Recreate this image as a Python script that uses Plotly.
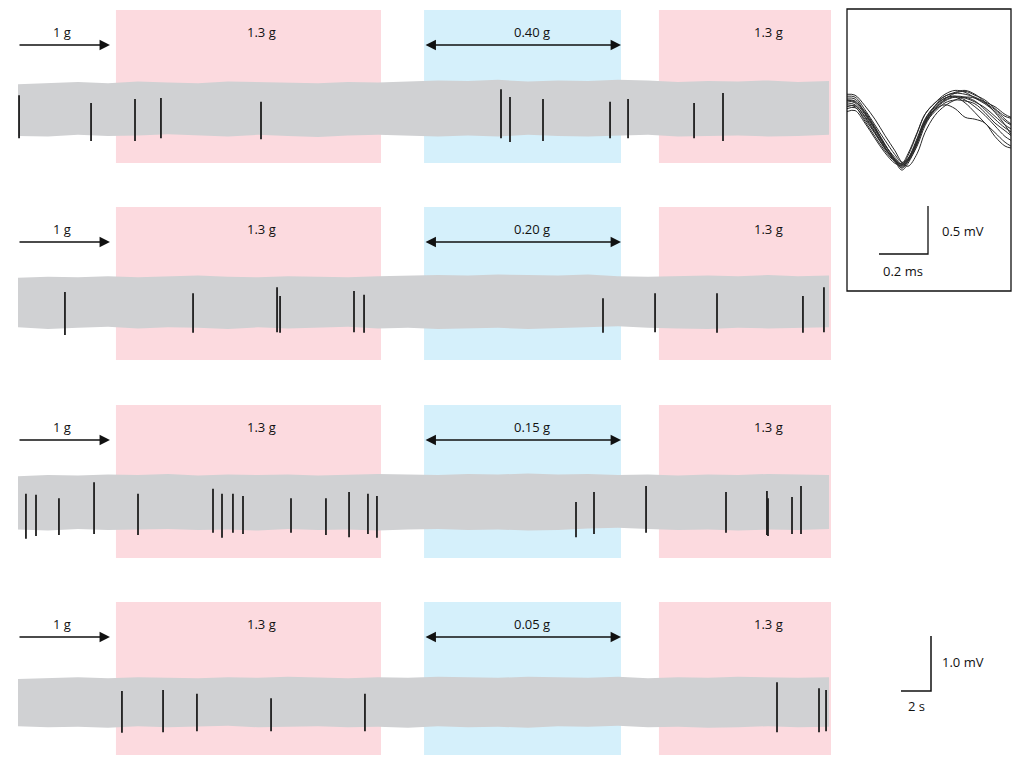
import plotly.graph_objects as go

# ------------------------------------------------------------------ data
LOW_G_LABELS = ["0.40 g", "0.20 g", "0.15 g", "0.05 g"]
HYPER_LABEL = "1.3 g"
BASE_LABEL = "1 g"

# condition intervals (seconds)
PINK1 = (6.53, 24.2)
BLUE = (27.07, 40.2)
PINK2 = (42.73, 54.2)
BASE_ARROW = (0.0, 6.13)
TRACE_END = 54.07

# noise envelope (mV, relative to each row baseline), sampled every 2 s
ENV_T = [0, 2, 4, 6, 8, 10, 12, 14, 16, 18, 20, 22, 24, 26, 28, 30, 32, 34, 36, 38,
         40, 42, 44, 46, 48, 50, 52, 54]
ENV_UP = [
    [0.45, 0.47, 0.49, 0.47, 0.50, 0.48, 0.47, 0.50, 0.49, 0.48, 0.47, 0.49, 0.48, 0.50,
     0.52, 0.51, 0.53, 0.50, 0.52, 0.51, 0.53, 0.52, 0.49, 0.51, 0.50, 0.52, 0.49, 0.51],
    [0.44, 0.46, 0.45, 0.47, 0.45, 0.46, 0.48, 0.46, 0.45, 0.47, 0.46, 0.45, 0.47, 0.48,
     0.49, 0.48, 0.50, 0.49, 0.48, 0.50, 0.47, 0.46, 0.47, 0.48, 0.47, 0.49, 0.47, 0.48],
    [0.47, 0.49, 0.48, 0.50, 0.49, 0.51, 0.48, 0.50, 0.49, 0.50, 0.48, 0.49, 0.51, 0.50,
     0.49, 0.51, 0.50, 0.52, 0.50, 0.51, 0.49, 0.50, 0.48, 0.50, 0.49, 0.51, 0.50, 0.49],
    [0.42, 0.44, 0.45, 0.43, 0.45, 0.44, 0.43, 0.45, 0.44, 0.46, 0.44, 0.43, 0.45, 0.44,
     0.46, 0.45, 0.44, 0.46, 0.45, 0.44, 0.46, 0.43, 0.45, 0.44, 0.46, 0.45, 0.44, 0.45],
]
ENV_LO = [
    [-0.49, -0.50, -0.47, -0.49, -0.48, -0.46, -0.48, -0.50, -0.47, -0.49, -0.51, -0.48, -0.47, -0.49,
     -0.50, -0.48, -0.50, -0.47, -0.49, -0.50, -0.48, -0.47, -0.50, -0.49, -0.48, -0.50, -0.49, -0.47],
    [-0.46, -0.49, -0.47, -0.45, -0.48, -0.46, -0.47, -0.49, -0.46, -0.48, -0.47, -0.45, -0.48, -0.47,
     -0.49, -0.48, -0.47, -0.49, -0.48, -0.46, -0.44, -0.47, -0.48, -0.49, -0.47, -0.48, -0.47, -0.46],
    [-0.50, -0.52, -0.49, -0.51, -0.50, -0.49, -0.51, -0.50, -0.52, -0.49, -0.51, -0.50, -0.52, -0.50,
     -0.49, -0.51, -0.50, -0.52, -0.51, -0.48, -0.47, -0.49, -0.51, -0.50, -0.52, -0.50, -0.51, -0.49],
    [-0.44, -0.46, -0.45, -0.47, -0.44, -0.46, -0.45, -0.43, -0.46, -0.45, -0.44, -0.46, -0.45, -0.47,
     -0.44, -0.46, -0.45, -0.47, -0.44, -0.45, -0.43, -0.46, -0.45, -0.47, -0.46, -0.44, -0.46, -0.45],
]

# spikes per row: time (s), top (mV), bottom (mV) relative to row baseline
SPIKE_T = [
    [0.07, 4.87, 7.8, 9.53, 16.2, 32.2, 32.8, 35.0, 39.47, 40.67, 45.07, 47.0],
    [3.13, 11.67, 17.27, 17.47, 22.4, 23.07, 39.0, 42.47, 46.6, 52.33, 53.73],
    [0.53, 1.2, 2.73, 5.07, 8.0, 13.0, 13.6, 14.33, 15.0, 18.2, 20.53, 22.07, 23.33, 23.93,
     37.2, 38.4, 41.87, 47.2, 49.93, 50.0, 51.6, 52.2],
    [6.93, 9.67, 11.93, 16.87, 23.13, 50.6, 53.4, 53.87],
]
SPIKE_TOP = [
    [0.25, 0.11, 0.18, 0.20, 0.13, 0.36, 0.22, 0.18, 0.13, 0.18, 0.11, 0.29],
    [0.18, 0.16, 0.27, 0.11, 0.20, 0.13, 0.07, 0.16, 0.16, 0.11, 0.27],
    [0.15, 0.13, 0.07, 0.36, 0.15, 0.24, 0.15, 0.15, 0.11, 0.07, 0.07, 0.18, 0.15, 0.11,
     0.00, 0.18, 0.29, 0.18, 0.20, 0.07, 0.09, 0.29],
    [0.20, 0.22, 0.15, 0.07, 0.15, 0.36, 0.25, 0.22],
]
SPIKE_BOT = [
    [-0.53, -0.58, -0.58, -0.53, -0.55, -0.53, -0.60, -0.58, -0.53, -0.53, -0.53, -0.58],
    [-0.60, -0.56, -0.55, -0.56, -0.55, -0.56, -0.56, -0.55, -0.56, -0.56, -0.55],
    [-0.67, -0.62, -0.60, -0.58, -0.60, -0.56, -0.65, -0.56, -0.58, -0.56, -0.60, -0.64, -0.58, -0.65,
     -0.64, -0.58, -0.56, -0.56, -0.60, -0.62, -0.58, -0.58],
    [-0.56, -0.55, -0.53, -0.53, -0.53, -0.55, -0.55, -0.53],
]

# inset: overlaid spike waveforms (time in ms, voltage in mV)
WAVE_T = [0, 0.033, 0.073, 0.114, 0.155, 0.196, 0.224, 0.249, 0.286, 0.318, 0.359, 0.4,
          0.441, 0.482, 0.522, 0.563, 0.604, 0.645, 0.669]
WAVES = [
    [0.00, -0.02, -0.12, -0.28, -0.46, -0.62, -0.68, -0.64, -0.48, -0.27, -0.10, -0.01, 0.03, 0.02, -0.02, -0.08, -0.17, -0.26, -0.30],
    [-0.05, -0.07, -0.22, -0.38, -0.53, -0.64, -0.66, -0.56, -0.34, -0.15, -0.03, 0.06, 0.10, 0.08, 0.02, -0.04, -0.12, -0.22, -0.26],
    [0.06, 0.05, -0.06, -0.20, -0.37, -0.53, -0.65, -0.69, -0.56, -0.34, -0.16, -0.06, 0.00, 0.03, 0.02, -0.03, -0.10, -0.20, -0.25],
    [-0.12, -0.11, -0.24, -0.40, -0.55, -0.66, -0.68, -0.58, -0.35, -0.15, -0.03, 0.04, 0.08, 0.10, 0.06, -0.02, -0.13, -0.26, -0.36],
    [0.02, 0.01, -0.13, -0.29, -0.47, -0.62, -0.71, -0.64, -0.44, -0.24, -0.09, 0.00, 0.03, -0.03, -0.13, -0.24, -0.34, -0.44, -0.48],
    [-0.03, -0.05, -0.18, -0.34, -0.50, -0.63, -0.69, -0.62, -0.42, -0.22, -0.10, -0.05, -0.09, -0.18, -0.20, -0.24, -0.38, -0.48, -0.50],
    [0.04, 0.03, -0.10, -0.26, -0.42, -0.57, -0.65, -0.61, -0.42, -0.21, -0.06, 0.04, 0.07, 0.06, 0.03, -0.02, -0.07, -0.15, -0.18],
    [-0.09, -0.08, -0.20, -0.35, -0.51, -0.64, -0.70, -0.63, -0.44, -0.25, -0.12, -0.03, 0.00, -0.01, -0.04, -0.13, -0.24, -0.32, -0.37],
    [-0.01, -0.03, -0.15, -0.31, -0.47, -0.60, -0.67, -0.62, -0.45, -0.24, -0.09, 0.01, 0.07, 0.09, 0.05, 0.00, -0.09, -0.17, -0.19],
    [0.00, -0.01, -0.14, -0.30, -0.49, -0.64, -0.73, -0.66, -0.46, -0.23, -0.07, 0.02, 0.04, 0.00, -0.07, -0.16, -0.27, -0.38, -0.42],
    [-0.07, -0.06, -0.17, -0.33, -0.50, -0.62, -0.67, -0.61, -0.40, -0.20, -0.06, 0.02, 0.04, 0.03, -0.01, -0.10, -0.20, -0.29, -0.33],
]

SCALE_MAIN = (2.0, 1.0)      # 2 s, 1.0 mV
SCALE_INSET = (0.2, 0.5)     # 0.2 ms, 0.5 mV

# ------------------------------------------------------------------ layout helpers
W, H = 1024, 766
OFF = 8                      # page body margin in the browser
PINK = "#fcdadf"
BLUEC = "#d5f0fb"
GRAY = "#d0d1d3"
INK = "#1e1e1e"
FONT = "Open Sans"


def pxp(px):           # screen pixel x -> paper fraction
    return (px - OFF) / W


def pyp(py):           # screen pixel y -> paper fraction
    return 1 - (py - OFF) / H


def tx(px):            # main screen x pixel -> seconds
    return (px - 18) / 15.0


def vy(py):            # main screen y pixel -> mV
    return (109 - py) / 55.0


ROW_CENTER_PX = [109, 302, 502, 702]
RECT_TOP_PX = [10, 207, 405, 602]
RECT_H = 153
BASES = [vy(c) for c in ROW_CENTER_PX]

fig = go.Figure()
shapes = []
annotations = []

for i in range(4):
    base = BASES[i]
    top = vy(RECT_TOP_PX[i])
    bot = vy(RECT_TOP_PX[i] + RECT_H)
    for (a, b), col in [(PINK1, PINK), (BLUE, BLUEC), (PINK2, PINK)]:
        shapes.append(dict(type="rect", xref="x", yref="y", x0=a, x1=b, y0=bot, y1=top,
                           fillcolor=col, line=dict(width=0), layer="below"))
    # noise band
    xs = ENV_T[:-1] + [TRACE_END] + [TRACE_END] + ENV_T[::-1][1:]
    up = [base + v for v in ENV_UP[i]]
    lo = [base + v for v in ENV_LO[i]]
    ys = up + lo[::-1]
    fig.add_trace(go.Scatter(x=xs, y=ys, fill="toself", fillcolor=GRAY, mode="lines",
                             line=dict(width=0, color=GRAY), hoverinfo="skip",
                             showlegend=False, xaxis="x", yaxis="y"))
    # spikes
    sx, sy = [], []
    for t, a, b in zip(SPIKE_T[i], SPIKE_TOP[i], SPIKE_BOT[i]):
        sx += [t, t, None]
        sy += [base + a, base + b, None]
    fig.add_trace(go.Scatter(x=sx, y=sy, mode="lines", line=dict(color=INK, width=1.8),
                             hoverinfo="skip", showlegend=False, xaxis="x", yaxis="y"))
    # arrows
    ay = vy(RECT_TOP_PX[i] + 35)
    annotations.append(dict(x=BASE_ARROW[1], y=ay, ax=BASE_ARROW[0], ay=ay, xref="x", yref="y",
                            axref="x", ayref="y", text="", showarrow=True, arrowhead=2,
                            arrowsize=1.6, arrowwidth=1.3, arrowcolor="#111", standoff=0))
    annotations.append(dict(x=BLUE[1], y=ay, ax=BLUE[0], ay=ay, xref="x", yref="y",
                            axref="x", ayref="y", text="", showarrow=True, arrowhead=2,
                            startarrowhead=2, arrowside="end+start",
                            arrowsize=1.6, startarrowsize=1.6, arrowwidth=1.3,
                            arrowcolor="#111", standoff=0, startstandoff=0))
    ly = pyp(RECT_TOP_PX[i] + 22)
    for px, txt in [(62, BASE_LABEL), (261, HYPER_LABEL), (532, LOW_G_LABELS[i]), (768, HYPER_LABEL)]:
        annotations.append(dict(x=pxp(px), y=ly, xref="paper", yref="paper", text=txt,
                                showarrow=False, xanchor="center", yanchor="middle",
                                font=dict(family=FONT, size=13, color="#111")))

# main scale bar
sb_t0 = tx(901)
sb_y0 = vy(691)
fig.add_trace(go.Scatter(x=[sb_t0, sb_t0 + SCALE_MAIN[0], sb_t0 + SCALE_MAIN[0]],
                         y=[sb_y0, sb_y0, sb_y0 + SCALE_MAIN[1]], mode="lines",
                         line=dict(color="#111", width=1.5), hoverinfo="skip",
                         showlegend=False, xaxis="x", yaxis="y"))
annotations.append(dict(x=pxp(940), y=pyp(662), xref="paper", yref="paper", text="1.0 mV",
                        showarrow=False, xanchor="left", yanchor="middle",
                        font=dict(family=FONT, size=13, color="#111")))
annotations.append(dict(x=pxp(916), y=pyp(706), xref="paper", yref="paper", text="2 s",
                        showarrow=False, xanchor="center", yanchor="middle",
                        font=dict(family=FONT, size=13, color="#111")))

# inset waveforms
for wv in WAVES:
    fig.add_trace(go.Scatter(x=WAVE_T, y=wv, mode="lines", line=dict(color="#2a2a2a", width=1),
                             line_shape="spline", hoverinfo="skip", showlegend=False,
                             xaxis="x2", yaxis="y2"))


def itx(px):
    return (px - 847) / 245.0


def ivy(py):
    return (100 - py) / 96.0


isb_t0 = itx(879)
isb_y0 = ivy(254)
fig.add_trace(go.Scatter(x=[isb_t0, isb_t0 + SCALE_INSET[0], isb_t0 + SCALE_INSET[0]],
                         y=[isb_y0, isb_y0, isb_y0 + SCALE_INSET[1]], mode="lines",
                         line=dict(color="#111", width=1.3), hoverinfo="skip",
                         showlegend=False, xaxis="x2", yaxis="y2"))
annotations.append(dict(x=pxp(940), y=pyp(231), xref="paper", yref="paper", text="0.5 mV",
                        showarrow=False, xanchor="left", yanchor="middle",
                        font=dict(family=FONT, size=13, color="#111")))
annotations.append(dict(x=pxp(903), y=pyp(271), xref="paper", yref="paper", text="0.2 ms",
                        showarrow=False, xanchor="center", yanchor="middle",
                        font=dict(family=FONT, size=13, color="#111")))
shapes.append(dict(type="rect", xref="paper", yref="paper", x0=pxp(847), x1=pxp(1011),
                   y0=pyp(291), y1=pyp(9), line=dict(color="#111", width=1.3),
                   fillcolor="rgba(0,0,0,0)"))

ax_common = dict(visible=False, showgrid=False, zeroline=False, fixedrange=True)
fig.update_layout(
    width=W, height=H, margin=dict(l=0, r=0, t=0, b=0),
    paper_bgcolor="white", plot_bgcolor="rgba(0,0,0,0)",
    xaxis=dict(domain=[0, 1], range=[tx(OFF), tx(W + OFF)], **ax_common),
    yaxis=dict(domain=[0, 1], range=[vy(H + OFF), vy(OFF)], **ax_common),
    xaxis2=dict(domain=[pxp(847), pxp(1011)], range=[itx(847), itx(1011)], anchor="y2", **ax_common),
    yaxis2=dict(domain=[pyp(291), pyp(9)], range=[ivy(291), ivy(9)], anchor="x2", **ax_common),
    shapes=shapes, annotations=annotations, showlegend=False,
)

fig.write_html("out.html")
